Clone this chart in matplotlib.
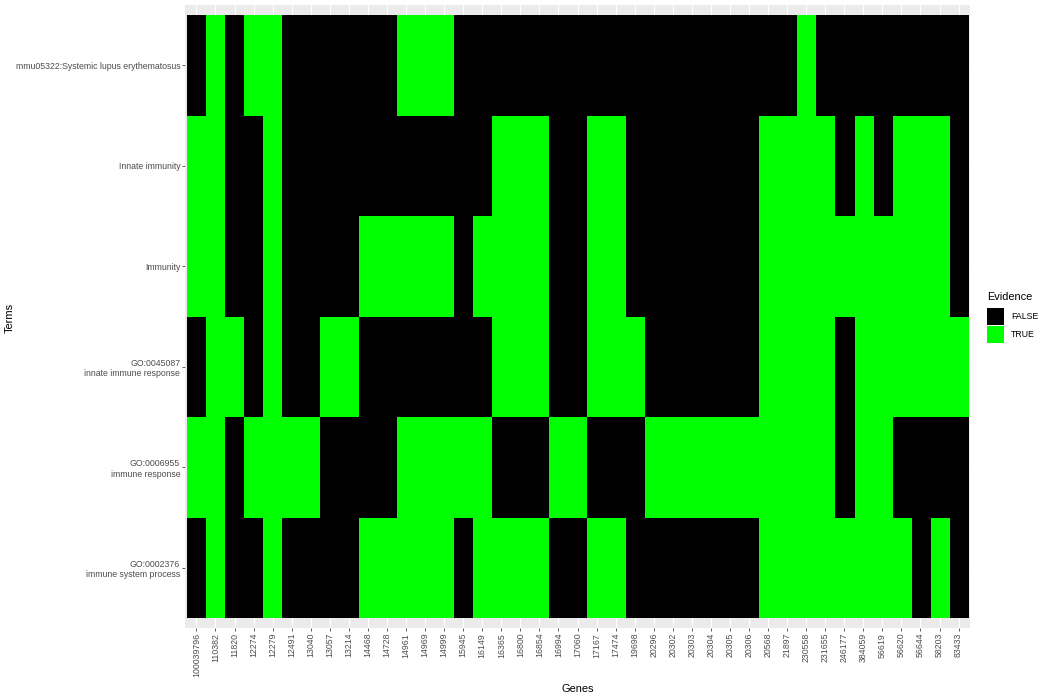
import numpy as np
import matplotlib
matplotlib.use("Agg")
import matplotlib.pyplot as plt
from matplotlib.colors import ListedColormap
from matplotlib.patches import Patch

plt.rcParams['font.family'] = ['Liberation Sans', 'DejaVu Sans']

genes = ["100039796", "110382", "11820", "12274", "12279", "12491", "13040", "13057",
         "13214", "14468", "14728", "14961", "14969", "14999", "15945", "16149",
         "16365", "16800", "16854", "16994", "17060", "17167", "17474", "19698",
         "20296", "20302", "20303", "20304", "20305", "20306", "20568", "21897",
         "230558", "231655", "246177", "384059", "56619", "56620", "56644", "58203",
         "83433"]

# bottom to top
terms = ["GO:0002376\nimmune system process",
         "GO:0006955\nimmune response",
         "GO:0045087\ninnate immune response",
         "Immunity",
         "Innate immunity",
         "mmu05322:Systemic lupus erythematosus"]

true_go0002376 = ["110382", "12279", "14468", "14728", "14961", "14969", "14999", "16149",
                  "16365", "16800", "16854", "17167", "17474", "20568", "21897", "230558",
                  "231655", "246177", "384059", "56619", "56620", "58203"]
true_go0006955 = ["100039796", "110382", "12274", "12279", "12491", "13040", "14961", "14969",
                  "14999", "15945", "16149", "16994", "17060", "20296", "20302", "20303",
                  "20304", "20305", "20306", "20568", "21897", "230558", "231655", "384059",
                  "56619"]
true_go0045087 = ["110382", "11820", "12279", "13057", "13214", "16365", "16800", "16854",
                  "17167", "17474", "19698", "20568", "21897", "230558", "231655", "384059",
                  "56619", "56620", "56644", "58203", "83433"]
true_immunity = ["100039796", "110382", "12279", "14468", "14728", "14961", "14969", "14999",
                 "16149", "16365", "16800", "16854", "17167", "17474", "20568", "21897",
                 "230558", "231655", "246177", "384059", "56619", "56620", "56644", "58203"]
true_innate = ["100039796", "110382", "12279", "16365", "16800", "16854", "17167", "17474",
               "20568", "21897", "230558", "231655", "384059", "56620", "56644", "58203"]
true_mmu05322 = ["110382", "12274", "12279", "14961", "14969", "14999", "230558"]

true_sets = [true_go0002376, true_go0006955, true_go0045087,
             true_immunity, true_innate, true_mmu05322]

evidence_levels = ["FALSE", "TRUE"]
evidence_colors = ["#000000", "#00FF00"]

matrix = np.array([[1 if g in s else 0 for g in genes] for s in true_sets])

W, H = 1048, 700
fig = plt.figure(figsize=(W / 100, H / 100), dpi=100)
ax = fig.add_axes([185 / W, 1 - 628 / H, (970 - 185) / W, (628 - 5) / H])
ax.set_facecolor("#EBEBEB")

cmap = ListedColormap(evidence_colors)
ax.imshow(matrix, cmap=cmap, vmin=0, vmax=1, aspect='auto', origin='lower',
          interpolation='nearest', zorder=2)

ax.set_xlim(-0.6, len(genes) - 0.4)
ax.set_ylim(-0.6, len(terms) - 0.4)
ax.set_xticks(np.arange(len(genes)))
ax.set_xticklabels(genes, rotation=90, fontsize=6.3, color="#4D4D4D")
ax.set_yticks(np.arange(len(terms)))
ax.set_yticklabels(terms, fontsize=6.3, color="#4D4D4D", ha='right', multialignment='right')
ax.tick_params(axis='both', length=2.0, width=0.55, color="#333333", pad=1.5)
for s in ax.spines.values():
    s.set_visible(False)
ax.grid(True, color="white", linewidth=0.8, zorder=0)
ax.set_axisbelow(True)

ax.set_xlabel("Genes", fontsize=7.9, labelpad=5)
ax.set_ylabel("Terms", fontsize=7.9)
ax.yaxis.set_label_coords(10 / W, 1 - 318 / H, transform=fig.transFigure)
ax.yaxis.label.set_va('center')

handles = [Patch(facecolor=c, edgecolor='none', label=l)
           for c, l in zip(evidence_colors, evidence_levels)]
leg = fig.legend(handles=handles, title="Evidence", loc='upper left',
                 bbox_to_anchor=(972 / W, 1 - 277 / H), frameon=False,
                 fontsize=6.3, title_fontsize=7.9, handlelength=1.94, handleheight=2.61,
                 labelspacing=0.1, handletextpad=0.8, borderaxespad=0, borderpad=1.7)
leg._legend_box.align = "left"
leg._legend_box.sep = 4.3

fig.savefig("out.png", dpi=100)
